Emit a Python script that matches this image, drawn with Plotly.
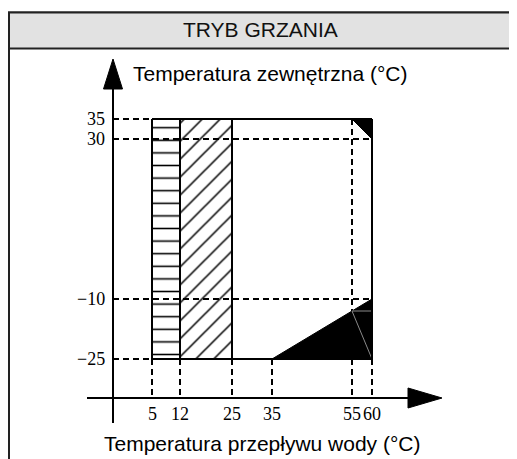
import plotly.graph_objects as go

# ---------------- data ----------------
water_ticks = [5, 12, 25, 35, 55, 60]            # flow water temperature (°C)
outdoor_ticks = [35, 30, -10, -25]              # outdoor temperature (°C)
outdoor_labels = ["35", "30", "\u221210", "\u221225"]

hatch_h_x = [5, 12]          # horizontally hatched zone
hatch_d_x = [12, 25]         # diagonally hatched zone
zone_y = [-25, 35]           # outdoor range of zones
main_x = [5, 60]             # main operating envelope
low_tri_x = [35, 60, 60]
low_tri_y = [-25, -25, -10]
top_tri_x = [55, 60, 60]
top_tri_y = [35, 35, 30]
inner_pt = [55, -13]         # faint inner edge point in the lower black zone

title_text = "TRYB GRZANIA"
y_title = "Temperatura zewnętrzna (°C)"
x_title = "Temperatura przepływu wody (°C)"

# ---------------- geometry (axis placement in data units) ----------------
W, H = 517, 459
OFF = 8               # page body margin
XR = [-31, 98.25]
YR = [-52, 62.75]
ax_x = -4.75          # where vertical axis is drawn
ax_y = -34.75         # where horizontal axis is drawn
yaxis_bottom = -41.0
yarrow_base, yarrow_tip, yarrow_half = 42.5, 50.0, 2.375
xaxis_left = -11.25
xarrow_base, xarrow_tip, xarrow_half = 69.0, 77.5, 2.5


def px(xp):
    return (xp - OFF) / W


def py(yp):
    return 1 - (yp - OFF) / H


def rect(xs, ys):
    return [xs[0], xs[1], xs[1], xs[0], xs[0]], [ys[0], ys[0], ys[1], ys[1], ys[0]]


def segs(pairs):
    xs, ys = [], []
    for (x0, y0), (x1, y1) in pairs:
        xs += [x0, x1, None]
        ys += [y0, y1, None]
    return xs, ys


fig = go.Figure()

# hatched zones
hx, hy = rect(hatch_h_x, zone_y)
fig.add_trace(go.Scatter(x=hx, y=hy, mode="lines", fill="toself",
                         fillcolor="white", line=dict(width=0),
                         fillpattern=dict(shape="-", size=12.6, solidity=0.125,
                                          fgcolor="black", bgcolor="white",
                                          fgopacity=1, fillmode="replace"),
                         hoverinfo="skip", showlegend=False))
dx, dy = rect(hatch_d_x, zone_y)
fig.add_trace(go.Scatter(x=dx, y=dy, mode="lines", fill="toself",
                         fillcolor="white", line=dict(width=0),
                         fillpattern=dict(shape="/", size=12.7, solidity=0.12,
                                          fgcolor="black", bgcolor="white",
                                          fgopacity=1, fillmode="replace"),
                         hoverinfo="skip", showlegend=False))

# dashed guide lines
y_top, y_30, y_m10, y_low = outdoor_ticks
dash_pairs = [
    ((ax_x, y_top), (main_x[0], y_top)),
    ((ax_x, y_30), (main_x[1], y_30)),
    ((ax_x, y_m10), (main_x[1], y_m10)),
    ((ax_x, y_low), (main_x[0], y_low)),
]
for t in water_ticks:
    start = y_top if t == 55 else y_low
    dash_pairs.append(((t, start), (t, ax_y)))
gx, gy = segs(dash_pairs)
fig.add_trace(go.Scatter(x=gx, y=gy, mode="lines",
                         line=dict(color="black", width=2, dash="6px,4px"),
                         hoverinfo="skip", showlegend=False))

# black zones
fig.add_trace(go.Scatter(x=low_tri_x + [low_tri_x[0]], y=low_tri_y + [low_tri_y[0]],
                         mode="lines", fill="toself", fillcolor="black",
                         line=dict(color="black", width=1),
                         hoverinfo="skip", showlegend=False))
fig.add_trace(go.Scatter(x=top_tri_x + [top_tri_x[0]], y=top_tri_y + [top_tri_y[0]],
                         mode="lines", fill="toself", fillcolor="black",
                         line=dict(color="black", width=1),
                         hoverinfo="skip", showlegend=False))

# faint inner edges
fx, fy = segs([((inner_pt[0], inner_pt[1]), (main_x[1], inner_pt[1])),
               ((inner_pt[0], inner_pt[1]), (main_x[1], zone_y[0]))])
fig.add_trace(go.Scatter(x=fx, y=fy, mode="lines",
                         line=dict(color="#8a8a8a", width=1),
                         hoverinfo="skip", showlegend=False))

# solid outlines
solid_pairs = [
    ((hatch_h_x[0], zone_y[0]), (hatch_h_x[0], zone_y[1])),
    ((hatch_h_x[1], zone_y[0]), (hatch_h_x[1], zone_y[1])),
    ((hatch_d_x[1], zone_y[0]), (hatch_d_x[1], zone_y[1])),
    ((main_x[0], zone_y[1]), (main_x[1], zone_y[1])),
    ((main_x[1], zone_y[1]), (main_x[1], zone_y[0])),
    ((main_x[0], zone_y[0]), (main_x[1], zone_y[0])),
]
sx, sy = segs(solid_pairs)
fig.add_trace(go.Scatter(x=sx, y=sy, mode="lines",
                         line=dict(color="black", width=2),
                         hoverinfo="skip", showlegend=False))

# axes with arrows
axx, axy = segs([((ax_x, yaxis_bottom), (ax_x, yarrow_base)),
                 ((xaxis_left, ax_y), (xarrow_base, ax_y))])
fig.add_trace(go.Scatter(x=axx, y=axy, mode="lines",
                         line=dict(color="black", width=2),
                         hoverinfo="skip", showlegend=False))
fig.add_trace(go.Scatter(x=[ax_x - yarrow_half, ax_x + yarrow_half, ax_x, ax_x - yarrow_half],
                         y=[yarrow_base, yarrow_base, yarrow_tip, yarrow_base],
                         mode="lines", fill="toself", fillcolor="black",
                         line=dict(color="black", width=1),
                         hoverinfo="skip", showlegend=False))
fig.add_trace(go.Scatter(x=[xarrow_base, xarrow_base, xarrow_tip, xarrow_base],
                         y=[ax_y - xarrow_half, ax_y + xarrow_half, ax_y, ax_y - xarrow_half],
                         mode="lines", fill="toself", fillcolor="black",
                         line=dict(color="black", width=1),
                         hoverinfo="skip", showlegend=False))

annotations = []
serif = dict(family="Liberation Serif, DejaVu Serif, serif", size=18, color="black")
for v, lab in zip(outdoor_ticks, outdoor_labels):
    annotations.append(dict(x=ax_x - 1.6, y=v, text=lab, showarrow=False,
                            xanchor="right", yanchor="middle", font=serif))
for v in water_ticks:
    annotations.append(dict(x=v, y=ax_y - 4.0, text=str(v), showarrow=False,
                            xanchor="center", yanchor="middle", font=serif))

sans = dict(family="Liberation Sans, Arial, sans-serif", size=21, color="black")
annotations.append(dict(x=ax_x + 4.6, y=46.5, text=y_title, showarrow=False,
                        xanchor="left", yanchor="middle", font=sans))
annotations.append(dict(x=32.5, y=-46.0, text=x_title, showarrow=False,
                        xanchor="center", yanchor="middle", font=sans))
annotations.append(dict(x=px(260), y=py(30), xref="paper", yref="paper",
                        text=title_text, showarrow=False,
                        xanchor="center", yanchor="middle",
                        font=dict(family="Liberation Sans, Arial, sans-serif",
                                  size=21, color="#111111")))

shapes = [
    dict(type="rect", xref="paper", yref="paper",
         x0=px(9), x1=px(540), y0=py(12.5), y1=py(480),
         line=dict(color="#222222", width=2), fillcolor="rgba(0,0,0,0)", layer="below"),
    dict(type="rect", xref="paper", yref="paper",
         x0=px(9), x1=px(540), y0=py(12.5), y1=py(48.5),
         line=dict(color="#222222", width=2), fillcolor="#e2e2e2", layer="below"),
]

fig.update_layout(
    width=W, height=H, autosize=False,
    margin=dict(l=0, r=0, t=0, b=0),
    paper_bgcolor="white", plot_bgcolor="white",
    xaxis=dict(range=XR, visible=False, fixedrange=True),
    yaxis=dict(range=YR, visible=False, fixedrange=True),
    annotations=annotations, shapes=shapes, showlegend=False,
)

fig.write_html("out.html")
